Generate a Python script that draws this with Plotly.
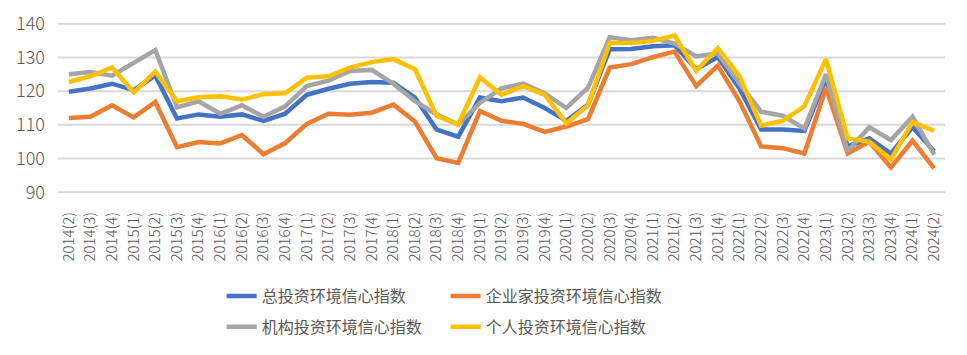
import plotly.graph_objects as go

categories = [
    "2014(2)", "2014(3)", "2014(4)",
    "2015(1)", "2015(2)", "2015(3)", "2015(4)",
    "2016(1)", "2016(2)", "2016(3)", "2016(4)",
    "2017(1)", "2017(2)", "2017(3)", "2017(4)",
    "2018(1)", "2018(2)", "2018(3)", "2018(4)",
    "2019(1)", "2019(2)", "2019(3)", "2019(4)",
    "2020(1)", "2020(2)", "2020(3)", "2020(4)",
    "2021(1)", "2021(2)", "2021(3)", "2021(4)",
    "2022(1)", "2022(2)", "2022(3)", "2022(4)",
    "2023(1)", "2023(2)", "2023(3)", "2023(4)",
    "2024(1)", "2024(2)",
]

total_index = [
    119.8, 120.8, 122.2, 120.3, 124.6, 111.9, 113.1, 112.4, 113.1, 111.2, 113.3,
    118.9, 120.7, 122.2, 122.7, 122.5, 118.1, 108.6, 106.5, 118.1, 117.0,
    118.1, 115.0, 111.2, 116.0, 132.4, 132.5, 133.3, 133.6, 126.5, 130.1,
    120.8, 108.6, 108.6, 108.2, 123.6, 103.6, 106.0, 101.5, 109.3, 102.2,
]
entrepreneur_index = [
    112.0, 112.4, 115.8, 112.2, 116.8, 103.4, 104.9, 104.5, 107.0, 101.3, 104.6,
    110.3, 113.3, 113.0, 113.6, 116.0, 111.0, 100.1, 98.7, 114.1, 111.2,
    110.3, 107.9, 109.5, 111.7, 127.0, 128.0, 130.1, 131.7, 121.5, 127.6,
    117.0, 103.6, 103.1, 101.5, 121.0, 101.5, 105.0, 97.4, 105.3, 97.1,
]
institution_index = [
    125.0, 125.7, 124.6, 128.4, 132.2, 115.2, 117.0, 113.3, 115.8, 112.4, 115.5,
    121.5, 123.1, 126.0, 126.3, 122.2, 117.0, 113.1, 110.1, 116.5, 120.8,
    122.2, 119.3, 115.0, 121.0, 136.0, 135.1, 135.8, 134.1, 130.3, 131.2,
    122.2, 113.9, 112.7, 108.9, 125.0, 102.2, 109.3, 105.5, 112.4, 101.2,
]
individual_index = [
    122.7, 124.4, 127.0, 119.6, 125.8, 117.0, 118.2, 118.5, 117.5, 119.1, 119.4,
    124.0, 124.4, 127.0, 128.6, 129.5, 126.5, 112.7, 110.1, 124.1, 118.9,
    121.5, 118.9, 110.5, 115.8, 134.3, 134.3, 134.9, 136.5, 126.0, 132.7,
    124.4, 109.8, 111.2, 115.5, 129.5, 106.0, 105.0, 99.8, 110.8, 108.2,
]

y_ticks = [90, 100, 110, 120, 130, 140]

series_names = ["总投资环境信心指数", "企业家投资环境信心指数", "机构投资环境信心指数", "个人投资环境信心指数"]
series_values = [total_index, entrepreneur_index, institution_index, individual_index]
series_colors = ["#4472C4", "#ED7D31", "#A5A5A5", "#FFC000"]
series_legends = ["legend", "legend", "legend2", "legend2"]

FONT = "Noto Sans CJK SC"
TEXT_COLOR = "#595959"
GRID_COLOR = "#D9D9D9"

fig = go.Figure()

# horizontal gridlines, drawn on a hidden full-width base x axis (below the data subplot)
for v in y_ticks:
    fig.add_trace(go.Scatter(
        x=[0, 1], y=[v, v], mode="lines",
        xaxis="x", yaxis="y",
        line=dict(color=GRID_COLOR, width=2),
        showlegend=False, hoverinfo="skip",
    ))

# data series on the visible category axis, overlaid on top
for name, vals, col, lg in zip(series_names, series_values, series_colors, series_legends):
    fig.add_trace(go.Scatter(
        x=categories, y=vals, mode="lines", name=name,
        xaxis="x2", yaxis="y",
        line=dict(color=col, width=4.5),
        legend=lg,
    ))

legend_common = dict(
    orientation="h",
    xanchor="left", yanchor="top",
    font=dict(family=FONT, size=16, color=TEXT_COLOR),
    bgcolor="rgba(0,0,0,0)",
    entrywidth=179, entrywidthmode="pixels",
    itemclick=False, tracegroupgap=0,
)

fig.update_layout(
    template="none",
    width=967, height=355,
    margin=dict(l=58, r=22, t=23, b=157),
    paper_bgcolor="white", plot_bgcolor="white",
    font=dict(family=FONT, color=TEXT_COLOR),
    showlegend=True,
    legend=dict(x=0.1845, y=-0.507, **legend_common),
    legend2=dict(x=0.1845, y=-0.687, **legend_common),
    xaxis=dict(
        type="linear", range=[0, 1], visible=False,
        showgrid=False, zeroline=False, fixedrange=True,
    ),
    xaxis2=dict(
        type="category",
        overlaying="x", anchor="y", side="bottom",
        tickangle=-90,
        tickfont=dict(family=FONT, size=15, color=TEXT_COLOR, weight=300),
        showgrid=False, zeroline=False,
        showline=False, ticks="",
        ticklabelstandoff=15,
        automargin=False,
        range=[-0.5, len(categories) - 0.5],
    ),
    yaxis=dict(
        range=[89.8, 140.2],
        tickmode="array",
        tickvals=y_ticks,
        tickfont=dict(family=FONT, size=18, color=TEXT_COLOR, weight=300),
        showgrid=False,
        zeroline=False, showline=False, ticks="",
        ticklabelstandoff=12,
        automargin=False,
    ),
)

fig.write_html(
    "out.html",
    config={"displayModeBar": False},
    post_script="document.body.style.margin='0';",
)
